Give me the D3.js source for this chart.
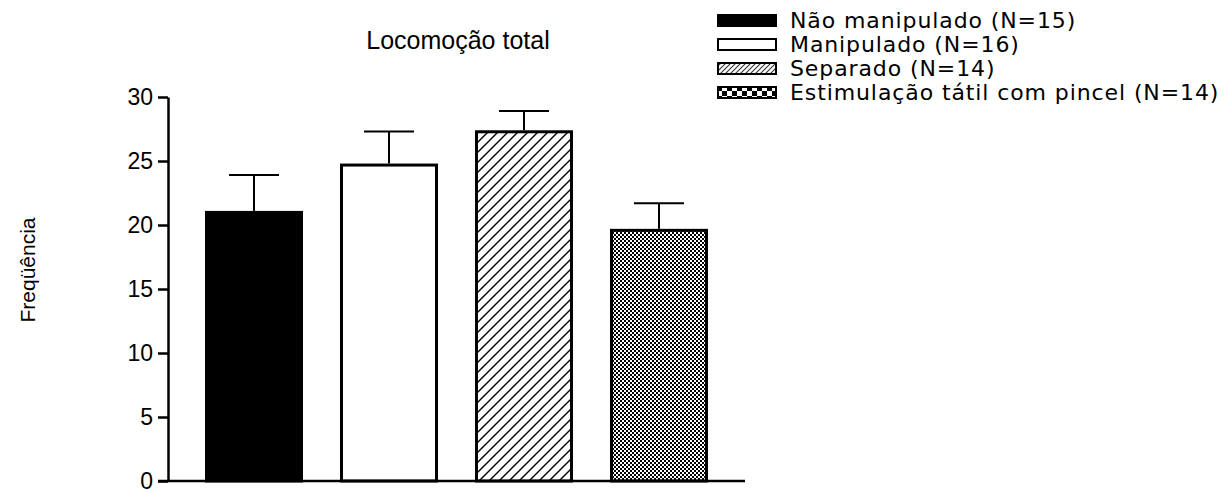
<!DOCTYPE html>
<html>
<head>
<meta charset="utf-8">
<script src="https://cdn.jsdelivr.net/npm/d3@7"></script>
<style>
  html, body { margin: 0; padding: 0; background: #fff; }
  svg { display: block; }
</style>
</head>
<body>
<svg id="chart" width="1228" height="491"></svg>
<script>
// Group labels, means and upper error (mean + SEM)
const groups = ["Não manipulado (N=15)", "Manipulado (N=16)", "Separado (N=14)", "Estimulação tátil com pincel (N=14)"];
const means = [21.1, 24.8, 27.4, 19.7];
const errTop = [23.9, 27.3, 28.9, 21.7];
const yTicks = [0, 5, 10, 15, 20, 25, 30];
const fills = ["solid", "empty", "hatch", "checker"];

const svg = d3.select("#chart");
const defs = svg.append("defs");

// Diagonal hatching for the bar
const hatch = defs.append("pattern").attr("id", "hatch").attr("patternUnits", "userSpaceOnUse")
  .attr("width", 10).attr("height", 10);
hatch.append("rect").attr("width", 10).attr("height", 10).attr("fill", "#fff");
hatch.append("path").attr("d", "M-1,11 L11,-1 M-6,6 L6,-6 M4,16 L16,4")
  .attr("stroke", "#000").attr("stroke-width", 1.4);

// Finer hatching for the legend swatch
const hatchS = defs.append("pattern").attr("id", "hatchS").attr("patternUnits", "userSpaceOnUse")
  .attr("width", 5).attr("height", 5);
hatchS.append("rect").attr("width", 5).attr("height", 5).attr("fill", "#fff");
hatchS.append("path").attr("d", "M-1,6 L6,-1 M-3,3 L3,-3 M2,8 L8,2")
  .attr("stroke", "#333").attr("stroke-width", 1.1);

// Fine checkerboard for the bar
const chk = defs.append("pattern").attr("id", "checker").attr("patternUnits", "userSpaceOnUse")
  .attr("width", 4).attr("height", 4);
chk.append("rect").attr("width", 4).attr("height", 4).attr("fill", "#fff");
chk.append("rect").attr("width", 2).attr("height", 2).attr("fill", "#000");
chk.append("rect").attr("x", 2).attr("y", 2).attr("width", 2).attr("height", 2).attr("fill", "#000");

// Coarse checkerboard for the legend swatch
const chkS = defs.append("pattern").attr("id", "checkerS").attr("patternUnits", "userSpaceOnUse")
  .attr("width", 10).attr("height", 10);
chkS.append("rect").attr("width", 10).attr("height", 10).attr("fill", "#fff");
chkS.append("rect").attr("width", 5).attr("height", 5).attr("fill", "#000");
chkS.append("rect").attr("x", 5).attr("y", 5).attr("width", 5).attr("height", 5).attr("fill", "#000");

const fillOf = {solid: "#000", empty: "#fff", hatch: "url(#hatch)", checker: "url(#checker)"};
const swatchOf = {solid: "#000", empty: "#fff", hatch: "url(#hatchS)", checker: "url(#checkerS)"};

const plot = {left: 168, right: 745, top: 97, bottom: 481};

const x = d3.scaleBand().domain(d3.range(groups.length)).range([plot.left, plot.right]).padding(0.274);
const y = d3.scaleLinear().domain([0, 30]).range([plot.bottom, plot.top]);

// Bars
svg.append("g").selectAll("rect").data(means).join("rect")
  .attr("x", (d, i) => x(i) + 1.5)
  .attr("width", x.bandwidth() - 3)
  .attr("y", d => y(d) + 1.5)
  .attr("height", d => y(0) - y(d) - 1.5)
  .attr("fill", (d, i) => fillOf[fills[i]])
  .attr("stroke", "#000").attr("stroke-width", 3);

// Error bars (upper only)
const capHalf = 25;
const eb = svg.append("g").attr("stroke", "#000").attr("stroke-width", 2);
errTop.forEach((e, i) => {
  const cx = x(i) + x.bandwidth() / 2;
  eb.append("line").attr("x1", cx).attr("x2", cx).attr("y1", y(means[i])).attr("y2", y(e));
  eb.append("line").attr("x1", cx - capHalf).attr("x2", cx + capHalf).attr("y1", y(e)).attr("y2", y(e));
});

// Y axis
const yAxis = svg.append("g").attr("transform", `translate(${plot.left},0)`)
  .call(d3.axisLeft(y).tickValues(yTicks).tickSize(10).tickSizeOuter(0).tickPadding(5));
yAxis.select(".domain").attr("stroke-width", 2.5);
yAxis.selectAll(".tick line").attr("stroke-width", 2.5);
yAxis.selectAll(".tick text").attr("font-family", "Liberation Sans, Arial, sans-serif")
  .attr("font-size", 23).attr("fill", "#000");

// X axis baseline
svg.append("line").attr("x1", plot.left - 10).attr("x2", plot.right)
  .attr("y1", y(0)).attr("y2", y(0)).attr("stroke", "#000").attr("stroke-width", 2.5);

// Title
svg.append("text").attr("x", 458).attr("y", 49).attr("text-anchor", "middle")
  .attr("font-family", "Liberation Sans, Arial, sans-serif").attr("font-size", 25)
  .text("Locomoção total");

// Y label
svg.append("text").attr("transform", "translate(35,270) rotate(-90)").attr("text-anchor", "middle")
  .attr("font-family", "Liberation Sans, Arial, sans-serif").attr("font-size", 21)
  .text("Freqüência");

// Legend
const lg = svg.append("g").attr("transform", "translate(717,14)");
const rows = lg.selectAll("g").data(groups).join("g")
  .attr("transform", (d, i) => `translate(0,${i * 24})`);
rows.append("rect").attr("x", 1).attr("y", 1).attr("width", 58).attr("height", 11)
  .attr("fill", (d, i) => swatchOf[fills[i]]).attr("stroke", "#000").attr("stroke-width", 2);
rows.append("text").attr("x", 73).attr("y", 14)
  .attr("font-family", "DejaVu Sans, Verdana, sans-serif").attr("font-size", 22)
  .attr("letter-spacing", 0.9)
  .text(d => d);
</script>
</body>
</html>
